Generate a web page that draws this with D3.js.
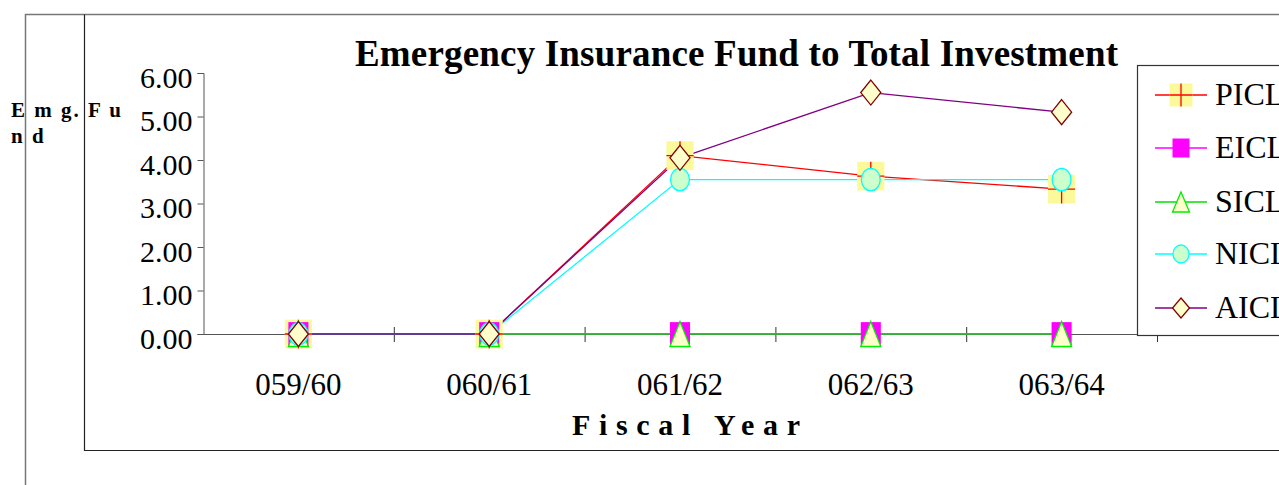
<!DOCTYPE html>
<html>
<head>
<meta charset="utf-8">
<script src="https://cdn.jsdelivr.net/npm/d3@7"></script>
<style>
  body { margin: 0; background: #fff; }
  svg { display: block; font-family: "Liberation Serif", "Times New Roman", serif; }
</style>
</head>
<body>
<div id="chart"></div>
<script>
// data
const years = ["059/60", "060/61", "061/62", "062/63", "063/64"];
const picl = [0, 0, 4.10, 3.63, 3.33];
const eicl = [0, 0, 0, 0, 0];
const sicl = [0, 0, 0, 0, 0];
const nicl = [0, 0, 3.55, 3.55, 3.55];
const aicl = [0, 0, 4.05, 5.55, 5.10];
const yTicks = [0, 1, 2, 3, 4, 5, 6];

const series = [
    {name: "PICL", values: picl, line: "#ff0000", marker: "plus"},
    {name: "EICL", values: eicl, line: "#ff00ff", marker: "square"},
    {name: "SICL", values: sicl, line: "#00e000", marker: "triangle"},
    {name: "NICL", values: nicl, line: "#00ffff", marker: "circle"},
    {name: "AICL", values: aicl, line: "#800080", marker: "diamond"}
];

const W = 1279, H = 485;
const svg = d3.select("#chart").append("svg")
    .attr("width", W).attr("height", H);

// frames
svg.append("path")
    .attr("d", `M25.5,${H} V14.5 H${W}`)
    .attr("fill", "none").attr("stroke", "#777").attr("stroke-width", 1.5);
svg.append("path")
    .attr("d", `M84.5,14.5 V450.5 H${W}`)
    .attr("fill", "none").attr("stroke", "#222").attr("stroke-width", 1.2);

const x = d3.scaleBand().domain(years).range([203, 1157]);
const y = d3.scaleLinear().domain([0, 6]).range([334, 73]);

// title
svg.append("text")
    .attr("x", 355).attr("y", 66)
    .attr("textLength", 763).attr("lengthAdjust", "spacing")
    .style("font-size", "37px").style("font-weight", "bold")
    .text("Emergency Insurance Fund to Total Investment");

// y axis
const yAxis = svg.append("g")
    .attr("transform", "translate(203.5,0)")
    .call(d3.axisLeft(y).tickValues(yTicks).tickFormat(d3.format(".2f")).tickSize(6).tickPadding(5));
yAxis.select(".domain").attr("stroke", "#555").attr("d", "M-6,73.5H0.5V334.5H-6");
yAxis.selectAll(".tick line").attr("stroke", "#555");
yAxis.selectAll(".tick text")
    .style("font-size", "30px").style("font-family", "Liberation Serif").attr("fill", "#000")
    .attr("dy", "0.47em");

// x axis line and ticks at band edges
svg.append("line")
    .attr("x1", 203).attr("x2", 1157).attr("y1", y(0) + 0.5).attr("y2", y(0) + 0.5)
    .attr("stroke", "#555").attr("stroke-width", 1.2);
const edges = years.map(d => x(d)).concat([x(years[years.length - 1]) + x.bandwidth()]);
svg.selectAll(".xtick").data(edges.slice(1)).enter().append("line")
    .attr("class", "xtick")
    .attr("x1", d => d + 0.5).attr("x2", d => d + 0.5)
    .attr("y1", y(0) - 7).attr("y2", y(0) + 8)
    .attr("stroke", "#333");
svg.selectAll(".xlabel").data(years).enter().append("text")
    .attr("class", "xlabel")
    .attr("x", d => x(d) + x.bandwidth() / 2)
    .attr("y", 395)
    .attr("text-anchor", "middle")
    .style("font-size", "31px")
    .text(d => d);

// axis titles
svg.append("text")
    .attr("x", 572).attr("y", 435)
    .attr("textLength", 228).attr("lengthAdjust", "spacing")
    .style("font-size", "30px").style("font-weight", "bold")
    .text("Fiscal Year");
const ylab = svg.append("text")
    .style("font-size", "21px").style("font-weight", "bold").style("letter-spacing", "2px");
ylab.append("tspan").attr("x", 11).attr("y", 117).text("E m g.  F u");
ylab.append("tspan").attr("x", 11).attr("y", 143).text("n d");

const cx = (d, i) => x(years[i]) + x.bandwidth() / 2;

// marker sizes (legend size), plot markers are scaled up a bit
const msize = {plus: [23, 23], square: [17, 19], triangle: [17, 20], circle: [16, 18], diamond: [17, 20]};

function drawMarker(g, type, px, py, sx, sy) {
    const w = msize[type][0] * sx / 2, h = msize[type][1] * sy / 2;
    if (type === "plus") {
        g.append("rect").attr("x", px - w).attr("y", py - h).attr("width", 2 * w).attr("height", 2 * h)
            .attr("fill", "#fbf99a");
        g.append("path").attr("d", `M${px - w},${py}H${px + w}M${px},${py - h}V${py + h}`)
            .attr("stroke", "#ff0000").attr("stroke-width", 1.3);
    } else if (type === "square") {
        g.append("rect").attr("x", px - w).attr("y", py - h).attr("width", 2 * w).attr("height", 2 * h)
            .attr("fill", "#ff00ff");
    } else if (type === "triangle") {
        g.append("path").attr("d", `M${px},${py - h}L${px + w},${py + h}H${px - w}Z`)
            .attr("fill", "#ffffcc").attr("stroke", "#00ee00").attr("stroke-width", 1.3);
    } else if (type === "circle") {
        g.append("ellipse").attr("cx", px).attr("cy", py).attr("rx", w).attr("ry", h)
            .attr("fill", "#ccffcc").attr("stroke", "#00ffff").attr("stroke-width", 1.3);
    } else if (type === "diamond") {
        g.append("path").attr("d", `M${px},${py - h}L${px + w},${py}L${px},${py + h}L${px - w},${py}Z`)
            .attr("fill", "#ffffcc").attr("stroke", "#800000").attr("stroke-width", 1.3);
    }
}

// lines
const line = d3.line().x(cx).y(d => y(d));
series.forEach(s => {
    svg.append("path").datum(s.values)
        .attr("d", line)
        .attr("fill", "none").attr("stroke", s.line).attr("stroke-width", 1.3);
});
// markers
series.forEach(s => {
    const g = svg.append("g");
    s.values.forEach((v, i) => drawMarker(g, s.marker, cx(v, i), y(v), 1.18, 1.25));
});

// legend
const lg = svg.append("g");
lg.append("rect").attr("x", 1137.5).attr("y", 65.5).attr("width", 160).attr("height", 270)
    .attr("fill", "#fff").attr("stroke", "#333").attr("stroke-width", 1.2);
const legY = [95, 148, 202, 254, 308];
series.forEach((s, i) => {
    const ly = legY[i];
    lg.append("line").attr("x1", 1155).attr("x2", 1207).attr("y1", ly).attr("y2", ly)
        .attr("stroke", s.line).attr("stroke-width", 1.3);
    drawMarker(lg, s.marker, 1181, ly, 1, 1);
    lg.append("text").attr("x", 1215).attr("y", ly + 10)
        .style("font-size", "32px").text(s.name);
});
</script>
</body>
</html>
